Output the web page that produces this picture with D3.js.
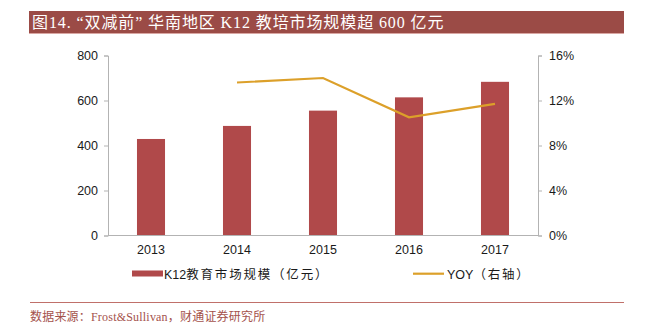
<!DOCTYPE html>
<html><head><meta charset="utf-8">
<script src="https://cdn.jsdelivr.net/npm/d3@7"></script>
<style>
html,body{margin:0;padding:0;background:#fff;}
svg{display:block;}
</style></head>
<body>
<svg id="c" width="646" height="331"></svg>
<script>
const titleText = "图14. “双减前” 华南地区 K12 教培市场规模超 600 亿元";
const sourceText = "数据来源：Frost&Sullivan，财通证券研究所";
const years = ["2013", "2014", "2015", "2016", "2017"];
const marketSize = [429, 487, 555, 614, 683];
const yoyYears = ["2014", "2015", "2016", "2017"];
const yoy = [13.6, 14.0, 10.5, 11.7];
const leftTicks = [0, 200, 400, 600, 800];
const rightTicks = [0, 4, 8, 12, 16];
const barLabelParts = ["K12", "教育市场规模（亿元）"];
const lineLabelParts = ["YOY", "（右轴）"];

const svg = d3.select("#c");
const barColor = "#b0494a", lineColor = "#dca02a", axisColor = "#b3b3b3";
const numFont = "'Liberation Sans', Arial, sans-serif";
const cjkFont = "'Liberation Sans', 'Noto Sans CJK SC', sans-serif";
const serifFont = "'Liberation Serif', 'Noto Sans CJK SC', serif";

// title banner
svg.append("rect").attr("x", 29).attr("y", 11).attr("width", 595).attr("height", 22).attr("fill", "#9b4b46");
svg.append("line").attr("x1", 29).attr("x2", 624).attr("y1", 33.5).attr("y2", 33.5).attr("stroke", "#d9a7a3").attr("stroke-width", 1);
svg.append("text").attr("x", 32).attr("y", 28).attr("fill", "#fff")
  .style("font-family", serifFont).style("font-size", "16px").style("letter-spacing", "0.9px").text(titleText);

const x = d3.scaleBand().domain(years).range([108, 538]).paddingInner(0.674).paddingOuter(0.337);
const yL = d3.scaleLinear().domain([0, 800]).range([235.5, 55.5]);
const yR = d3.scaleLinear().domain([0, 16]).range([235.5, 55.5]);

// bars
svg.append("g").selectAll("rect").data(years).join("rect")
  .attr("x", d => x(d)).attr("width", x.bandwidth())
  .attr("y", (d, i) => yL(marketSize[i])).attr("height", (d, i) => yL(0) - yL(marketSize[i]))
  .attr("fill", barColor);

// axes
const gL = svg.append("g").attr("transform", "translate(108,0)")
  .call(d3.axisLeft(yL).tickValues(leftTicks).tickSize(4).tickPadding(6));
const gR = svg.append("g").attr("transform", "translate(538,0)")
  .call(d3.axisRight(yR).tickValues(rightTicks).tickSize(4).tickPadding(7).tickFormat(d => d + "%"));
const gX = svg.append("g").attr("transform", "translate(0,235.5)")
  .call(d3.axisBottom(x).tickSize(0).tickPadding(9.5));
[gL, gR, gX].forEach(g => {
  g.selectAll("path,line").attr("stroke", axisColor);
  g.selectAll("text").attr("fill", "#1a1a1a").style("font-family", numFont).style("font-size", "12.5px");
});
gX.select(".domain").attr("d", "M108,0H538");

// line
const line = d3.line().x((d, i) => x(yoyYears[i]) + x.bandwidth() / 2).y(d => yR(d));
svg.append("path").datum(yoy).attr("d", line).attr("fill", "none")
  .attr("stroke", lineColor).attr("stroke-width", 2.2);

// legend
function legendText(xPos, parts) {
  const t = svg.append("text").attr("x", xPos).attr("y", 278.5).attr("fill", "#1a1a1a")
    .style("font-family", cjkFont).style("font-size", "12.5px");
  t.append("tspan").text(parts[0]);
  t.append("tspan").style("letter-spacing", "1.8px").text(parts[1]);
}
svg.append("rect").attr("x", 132).attr("y", 270.5).attr("width", 31).attr("height", 6).attr("fill", barColor);
legendText(164, barLabelParts);
svg.append("line").attr("x1", 413).attr("x2", 444).attr("y1", 273.7).attr("y2", 273.7)
  .attr("stroke", lineColor).attr("stroke-width", 2.2);
legendText(447, lineLabelParts);

// separator and source
svg.append("line").attr("x1", 30).attr("x2", 624).attr("y1", 302.5).attr("y2", 302.5)
  .attr("stroke", "#c0706a").attr("stroke-width", 1);
svg.append("text").attr("x", 30).attr("y", 320.5).attr("fill", "#a4524c")
  .style("font-family", serifFont).style("font-size", "12px").style("letter-spacing", "0.2px").text(sourceText);
</script>
</body></html>
